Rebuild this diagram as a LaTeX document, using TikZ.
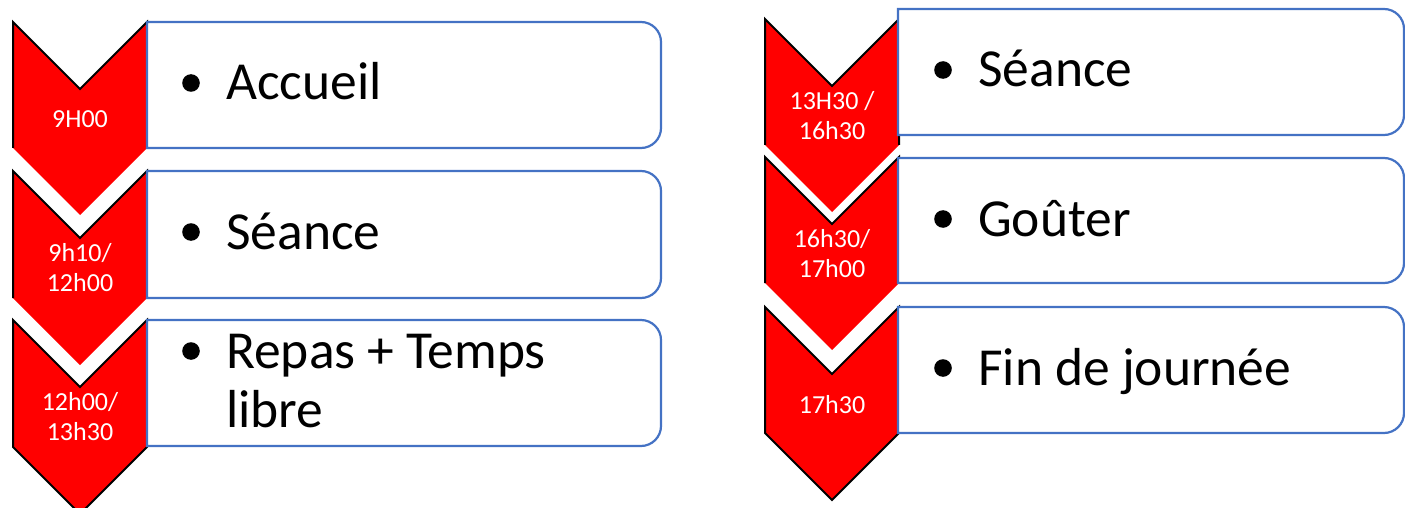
\documentclass[tikz,border=0pt]{standalone}
\usepackage{fontspec}
\setmainfont{Carlito}
\definecolor{chevred}{HTML}{FF0000}
\definecolor{boxblue}{HTML}{4472C4}
\tikzset{
  chevline/.style={draw=black, line width=2pt, line join=miter},
  boxst/.style={fill=white, draw=boxblue, line width=2.2pt},
  lab/.style={text=white, font=\fontsize{26}{30}\selectfont, align=center, inner sep=0pt},
  item/.style={font=\fontsize{53.5}{59}\selectfont, inner sep=0pt, anchor=base west},
  bul/.style={fill=black},
}
% chevron that is followed by another one (no bottom outline)
\newcommand\mychev[3]{%
  \fill[chevred] ({#1-67},#2) -- (#1,{#2+67}) -- ({#1+67},#2) -- ({#1+67},#3) -- (#1,{#3+67}) -- ({#1-67},#3) -- cycle;
  \draw[chevline] ({#1-67},#3) -- ({#1-67},#2) -- (#1,{#2+67}) -- ({#1+67},#2) -- ({#1+67},#3);}
% last chevron of a column (full outline)
\newcommand\mychevlast[3]{%
  \draw[chevline, fill=chevred] ({#1-67},#2) -- (#1,{#2+67}) -- ({#1+67},#2) -- ({#1+67},#3) -- (#1,{#3+67}) -- ({#1-67},#3) -- cycle;}
% box with rounded right corners: x1 y1 x2 y2
\newcommand\mybox[4]{%
  \draw[boxst] (#1,#4) -- (#1,#2) -- ({#3-20},#2) .. controls ({#3-9},#2) and (#3,{#2+9}) .. (#3,{#2+20}) -- (#3,{#4-20}) .. controls (#3,{#4-9}) and ({#3-9},#4) .. ({#3-20},#4) -- cycle;}
\begin{document}
\begin{tikzpicture}[x=1pt,y=-1pt]
\useasboundingbox (0,0) rectangle (1405,508);
% left column chevrons
\mychev{80}{22}{148}
\mychev{80}{171}{298}
\mychevlast{80}{320}{447}
% right column chevrons
\mychev{832}{19}{145}
\mychev{832}{157}{283}
\mychevlast{832}{307}{433}
% boxes
\mybox{147}{22}{661}{148}
\mybox{147}{171}{661}{298}
\mybox{147}{320}{661}{446}
\mybox{898}{9}{1404}{135}
\mybox{898}{158}{1404}{283}
\mybox{898}{307}{1404}{433}
% chevron labels
\node[lab] (c1) at (80,119) {9H00};
\node[lab] (c2) at (80,268) {9h10/\\12h00};
\node[lab] (c3) at (80,417) {12h00/\\13h30};
\node[lab] (d1) at (832,115.5) {13H30 /\\16h30};
\node[lab] (d2) at (832,254) {16h30/\\17h00};
\node[lab] (d3) at (832,405) {17h30};
% bullets
\fill[bul] (191,83) circle (8.8);
\fill[bul] (191,232) circle (8.8);
\fill[bul] (191,351) circle (8.8);
\fill[bul] (943,70) circle (8.8);
\fill[bul] (943,219) circle (8.8);
\fill[bul] (943,368) circle (8.8);
% item texts
\node[item] (t1) at (226,100) {Accueil};
\node[item] (t2) at (226,249) {Séance};
\node[item] (t3) at (226,368) {Repas + Temps};
\node[item] (t3b) at (226,427) {libre};
\node[item] (u1) at (978,87) {Séance};
\node[item] (u2) at (978,236) {Goûter};
\node[item] (u3) at (978,385) {Fin de journée};
\end{tikzpicture}
\end{document}
